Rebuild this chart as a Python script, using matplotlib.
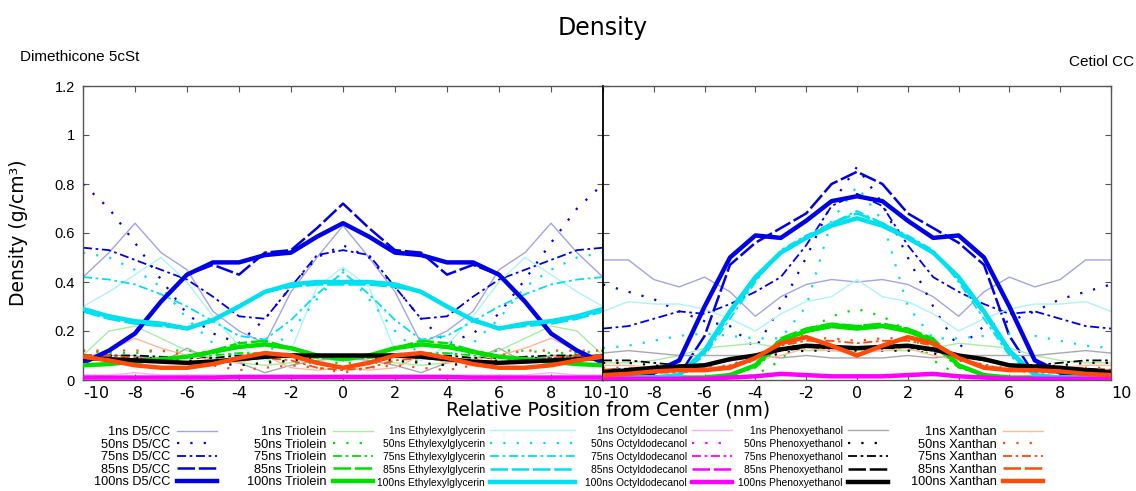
import matplotlib
matplotlib.use("Agg")
import matplotlib.pyplot as plt

# ── Data (density in g/cm^3, sampled every 1 nm from -10 to 10) ───────────────
X_NM = list(range(-10, 11))
TIMES = ["1ns", "50ns", "75ns", "85ns", "100ns"]
COMPONENTS = ["D5/CC", "Triolein", "Ethylexylglycerin",
              "Octyldodecanol", "Phenoxyethanol", "Xanthan"]

# Dimethicone 5cSt panel -- rows are 1, 50, 75, 85, 100 ns
DIM_D5 = [
    [0.42, 0.52, 0.64, 0.52, 0.45, 0.28, 0.20, 0.15, 0.36, 0.50, 0.63, 0.50, 0.36, 0.15, 0.20, 0.28, 0.45, 0.52, 0.64, 0.52, 0.42],
    [0.80, 0.70, 0.56, 0.41, 0.27, 0.19, 0.15, 0.25, 0.38, 0.50, 0.55, 0.50, 0.38, 0.25, 0.15, 0.19, 0.27, 0.41, 0.56, 0.70, 0.80],
    [0.54, 0.53, 0.49, 0.45, 0.41, 0.34, 0.26, 0.25, 0.38, 0.51, 0.53, 0.51, 0.38, 0.25, 0.26, 0.34, 0.41, 0.45, 0.49, 0.53, 0.54],
    [0.07, 0.12, 0.19, 0.32, 0.43, 0.47, 0.43, 0.52, 0.53, 0.62, 0.72, 0.62, 0.53, 0.52, 0.43, 0.47, 0.43, 0.32, 0.19, 0.12, 0.07],
    [0.07, 0.12, 0.19, 0.32, 0.43, 0.48, 0.48, 0.51, 0.52, 0.585, 0.64, 0.585, 0.52, 0.51, 0.48, 0.48, 0.43, 0.32, 0.19, 0.12, 0.07],
]
DIM_TRIOLEIN = [
    [0.10, 0.20, 0.22, 0.17, 0.12, 0.09, 0.07, 0.06, 0.07, 0.09, 0.10, 0.09, 0.07, 0.06, 0.07, 0.09, 0.12, 0.17, 0.22, 0.20, 0.10],
    [0.12, 0.11, 0.11, 0.12, 0.12, 0.11, 0.10, 0.08, 0.07, 0.07, 0.07, 0.07, 0.07, 0.08, 0.10, 0.11, 0.12, 0.12, 0.11, 0.11, 0.12],
    [0.10, 0.10, 0.09, 0.09, 0.09, 0.10, 0.11, 0.11, 0.10, 0.09, 0.08, 0.09, 0.10, 0.11, 0.11, 0.10, 0.09, 0.09, 0.09, 0.10, 0.10],
    [0.06, 0.065, 0.07, 0.08, 0.095, 0.12, 0.15, 0.16, 0.13, 0.10, 0.09, 0.10, 0.13, 0.16, 0.15, 0.12, 0.095, 0.08, 0.07, 0.065, 0.06],
    [0.06, 0.065, 0.075, 0.085, 0.095, 0.115, 0.135, 0.145, 0.13, 0.10, 0.085, 0.10, 0.13, 0.145, 0.135, 0.115, 0.095, 0.085, 0.075, 0.065, 0.06],
]
DIM_ETHYL = [
    [0.30, 0.36, 0.43, 0.50, 0.40, 0.26, 0.14, 0.08, 0.12, 0.38, 0.46, 0.38, 0.12, 0.08, 0.14, 0.26, 0.40, 0.50, 0.43, 0.36, 0.30],
    [0.52, 0.50, 0.45, 0.38, 0.25, 0.15, 0.10, 0.10, 0.20, 0.33, 0.45, 0.33, 0.20, 0.10, 0.10, 0.15, 0.25, 0.38, 0.45, 0.50, 0.52],
    [0.42, 0.41, 0.39, 0.35, 0.30, 0.24, 0.18, 0.165, 0.245, 0.35, 0.44, 0.35, 0.245, 0.165, 0.18, 0.24, 0.30, 0.35, 0.39, 0.41, 0.42],
    [0.28, 0.25, 0.23, 0.22, 0.21, 0.24, 0.30, 0.36, 0.38, 0.39, 0.39, 0.39, 0.38, 0.36, 0.30, 0.24, 0.21, 0.22, 0.23, 0.25, 0.28],
    [0.29, 0.26, 0.24, 0.23, 0.21, 0.245, 0.30, 0.36, 0.39, 0.40, 0.40, 0.40, 0.39, 0.36, 0.30, 0.245, 0.21, 0.23, 0.24, 0.26, 0.29],
]
DIM_OCTYL = [
    [0.02, 0.02, 0.03, 0.02, 0.02, 0.02, 0.02, 0.02, 0.02, 0.02, 0.02, 0.02, 0.02, 0.02, 0.02, 0.02, 0.02, 0.02, 0.03, 0.02, 0.02],
    [0.012, 0.012, 0.01, 0.01, 0.01, 0.012, 0.015, 0.015, 0.012, 0.01, 0.01, 0.01, 0.012, 0.015, 0.015, 0.012, 0.01, 0.01, 0.01, 0.012, 0.012],
    [0.011, 0.011, 0.01, 0.01, 0.01, 0.012, 0.014, 0.014, 0.012, 0.01, 0.01, 0.01, 0.012, 0.014, 0.014, 0.012, 0.01, 0.01, 0.01, 0.011, 0.011],
    [0.01, 0.01, 0.01, 0.01, 0.01, 0.01, 0.012, 0.012, 0.012, 0.012, 0.012, 0.012, 0.012, 0.012, 0.012, 0.01, 0.01, 0.01, 0.01, 0.01, 0.01],
    [0.01, 0.01, 0.01, 0.01, 0.01, 0.01, 0.012, 0.012, 0.012, 0.012, 0.012, 0.012, 0.012, 0.012, 0.012, 0.01, 0.01, 0.01, 0.01, 0.01, 0.01],
]
DIM_PHENOXY = [
    [0.09, 0.10, 0.10, 0.07, 0.13, 0.08, 0.07, 0.03, 0.06, 0.08, 0.09, 0.08, 0.06, 0.03, 0.07, 0.08, 0.13, 0.07, 0.10, 0.10, 0.09],
    [0.10, 0.10, 0.09, 0.09, 0.08, 0.07, 0.06, 0.07, 0.08, 0.09, 0.10, 0.09, 0.08, 0.07, 0.06, 0.07, 0.08, 0.09, 0.09, 0.10, 0.10],
    [0.10, 0.10, 0.10, 0.095, 0.09, 0.09, 0.10, 0.10, 0.105, 0.10, 0.10, 0.10, 0.105, 0.10, 0.10, 0.09, 0.09, 0.095, 0.10, 0.10, 0.10],
    [0.09, 0.085, 0.08, 0.075, 0.07, 0.075, 0.085, 0.095, 0.10, 0.10, 0.10, 0.10, 0.10, 0.095, 0.085, 0.075, 0.07, 0.075, 0.08, 0.085, 0.09],
    [0.09, 0.085, 0.08, 0.075, 0.07, 0.075, 0.085, 0.095, 0.10, 0.10, 0.10, 0.10, 0.10, 0.095, 0.085, 0.075, 0.07, 0.075, 0.08, 0.085, 0.09],
]
DIM_XANTHAN = [
    [0.09, 0.12, 0.17, 0.13, 0.10, 0.08, 0.07, 0.10, 0.05, 0.04, 0.05, 0.04, 0.05, 0.10, 0.07, 0.08, 0.10, 0.13, 0.17, 0.12, 0.09],
    [0.12, 0.12, 0.12, 0.12, 0.10, 0.06, 0.04, 0.05, 0.06, 0.05, 0.03, 0.05, 0.06, 0.05, 0.04, 0.06, 0.10, 0.12, 0.12, 0.12, 0.12],
    [0.10, 0.10, 0.09, 0.08, 0.07, 0.07, 0.08, 0.09, 0.08, 0.05, 0.04, 0.05, 0.08, 0.09, 0.08, 0.07, 0.07, 0.08, 0.09, 0.10, 0.10],
    [0.095, 0.08, 0.06, 0.05, 0.05, 0.065, 0.09, 0.11, 0.10, 0.07, 0.05, 0.07, 0.10, 0.11, 0.09, 0.065, 0.05, 0.05, 0.06, 0.08, 0.095],
    [0.095, 0.08, 0.06, 0.05, 0.05, 0.065, 0.09, 0.11, 0.10, 0.07, 0.05, 0.07, 0.10, 0.11, 0.09, 0.065, 0.05, 0.05, 0.06, 0.08, 0.095],
]

# Cetiol CC panel -- rows are 1, 50, 75, 85, 100 ns
CET_D5 = [
    [0.49, 0.49, 0.41, 0.38, 0.42, 0.36, 0.26, 0.34, 0.39, 0.41, 0.40, 0.41, 0.39, 0.34, 0.26, 0.36, 0.42, 0.38, 0.41, 0.49, 0.49],
    [0.39, 0.36, 0.33, 0.28, 0.24, 0.22, 0.13, 0.30, 0.50, 0.72, 0.87, 0.72, 0.50, 0.30, 0.13, 0.22, 0.24, 0.28, 0.33, 0.36, 0.39],
    [0.21, 0.22, 0.25, 0.28, 0.27, 0.31, 0.36, 0.42, 0.55, 0.71, 0.76, 0.71, 0.55, 0.42, 0.36, 0.31, 0.27, 0.28, 0.25, 0.22, 0.21],
    [0.01, 0.01, 0.01, 0.02, 0.18, 0.47, 0.56, 0.62, 0.68, 0.80, 0.85, 0.80, 0.68, 0.62, 0.56, 0.47, 0.18, 0.02, 0.01, 0.01, 0.01],
    [0.02, 0.025, 0.03, 0.08, 0.30, 0.50, 0.59, 0.58, 0.65, 0.73, 0.75, 0.73, 0.65, 0.58, 0.59, 0.50, 0.30, 0.08, 0.03, 0.025, 0.02],
]
CET_TRIOLEIN = [
    [0.07, 0.07, 0.08, 0.10, 0.13, 0.14, 0.15, 0.13, 0.12, 0.12, 0.12, 0.12, 0.12, 0.13, 0.15, 0.14, 0.13, 0.10, 0.08, 0.07, 0.07],
    [0.01, 0.01, 0.01, 0.01, 0.01, 0.01, 0.02, 0.08, 0.20, 0.26, 0.29, 0.26, 0.20, 0.08, 0.02, 0.01, 0.01, 0.01, 0.01, 0.01, 0.01],
    [0.01, 0.01, 0.01, 0.01, 0.01, 0.02, 0.05, 0.14, 0.21, 0.23, 0.22, 0.23, 0.21, 0.14, 0.05, 0.02, 0.01, 0.01, 0.01, 0.01, 0.01],
    [0.01, 0.01, 0.01, 0.01, 0.01, 0.02, 0.06, 0.17, 0.21, 0.23, 0.22, 0.23, 0.21, 0.17, 0.06, 0.02, 0.01, 0.01, 0.01, 0.01, 0.01],
    [0.01, 0.01, 0.01, 0.01, 0.01, 0.02, 0.06, 0.16, 0.20, 0.22, 0.21, 0.22, 0.20, 0.16, 0.06, 0.02, 0.01, 0.01, 0.01, 0.01, 0.01],
]
CET_ETHYL = [
    [0.28, 0.32, 0.31, 0.31, 0.29, 0.25, 0.20, 0.27, 0.32, 0.34, 0.41, 0.34, 0.32, 0.27, 0.20, 0.25, 0.29, 0.31, 0.31, 0.32, 0.28],
    [0.13, 0.14, 0.16, 0.18, 0.19, 0.18, 0.17, 0.17, 0.30, 0.65, 0.79, 0.65, 0.30, 0.17, 0.17, 0.18, 0.19, 0.18, 0.16, 0.14, 0.13],
    [0.01, 0.01, 0.01, 0.02, 0.10, 0.25, 0.40, 0.53, 0.59, 0.64, 0.69, 0.64, 0.59, 0.53, 0.40, 0.25, 0.10, 0.02, 0.01, 0.01, 0.01],
    [0.01, 0.01, 0.01, 0.02, 0.11, 0.27, 0.41, 0.52, 0.58, 0.64, 0.68, 0.64, 0.58, 0.52, 0.41, 0.27, 0.11, 0.02, 0.01, 0.01, 0.01],
    [0.01, 0.01, 0.01, 0.02, 0.12, 0.28, 0.42, 0.52, 0.58, 0.63, 0.66, 0.63, 0.58, 0.52, 0.42, 0.28, 0.12, 0.02, 0.01, 0.01, 0.01],
]
CET_OCTYL = [
    [0.01, 0.01, 0.01, 0.01, 0.01, 0.01, 0.015, 0.03, 0.02, 0.015, 0.015, 0.015, 0.02, 0.03, 0.015, 0.01, 0.01, 0.01, 0.01, 0.01, 0.01],
    [0.005, 0.005, 0.005, 0.005, 0.005, 0.01, 0.015, 0.03, 0.02, 0.015, 0.015, 0.015, 0.02, 0.03, 0.015, 0.01, 0.005, 0.005, 0.005, 0.005, 0.005],
    [0.005, 0.005, 0.005, 0.005, 0.005, 0.01, 0.015, 0.028, 0.02, 0.015, 0.015, 0.015, 0.02, 0.028, 0.015, 0.01, 0.005, 0.005, 0.005, 0.005, 0.005],
    [0.005, 0.005, 0.005, 0.005, 0.005, 0.01, 0.015, 0.025, 0.02, 0.015, 0.015, 0.015, 0.02, 0.025, 0.015, 0.01, 0.005, 0.005, 0.005, 0.005, 0.005],
    [0.005, 0.005, 0.005, 0.005, 0.005, 0.01, 0.015, 0.025, 0.02, 0.015, 0.015, 0.015, 0.02, 0.025, 0.015, 0.01, 0.005, 0.005, 0.005, 0.005, 0.005],
]
CET_PHENOXY = [
    [0.11, 0.12, 0.11, 0.10, 0.10, 0.10, 0.10, 0.09, 0.10, 0.09, 0.09, 0.09, 0.10, 0.09, 0.10, 0.10, 0.10, 0.10, 0.11, 0.12, 0.11],
    [0.07, 0.07, 0.06, 0.05, 0.05, 0.06, 0.08, 0.11, 0.12, 0.12, 0.12, 0.12, 0.12, 0.11, 0.08, 0.06, 0.05, 0.05, 0.06, 0.07, 0.07],
    [0.08, 0.08, 0.07, 0.06, 0.06, 0.08, 0.10, 0.12, 0.13, 0.13, 0.13, 0.13, 0.13, 0.12, 0.10, 0.08, 0.06, 0.06, 0.07, 0.08, 0.08],
    [0.04, 0.045, 0.05, 0.055, 0.06, 0.085, 0.10, 0.125, 0.14, 0.135, 0.13, 0.135, 0.14, 0.125, 0.10, 0.085, 0.06, 0.055, 0.05, 0.045, 0.04],
    [0.03, 0.04, 0.05, 0.055, 0.06, 0.085, 0.10, 0.125, 0.14, 0.135, 0.13, 0.135, 0.14, 0.125, 0.10, 0.085, 0.06, 0.055, 0.05, 0.04, 0.03],
]
CET_XANTHAN = [
    [0.06, 0.06, 0.05, 0.05, 0.05, 0.06, 0.08, 0.10, 0.13, 0.12, 0.11, 0.12, 0.13, 0.10, 0.08, 0.06, 0.05, 0.05, 0.05, 0.06, 0.06],
    [0.05, 0.05, 0.04, 0.04, 0.04, 0.06, 0.10, 0.15, 0.17, 0.17, 0.16, 0.17, 0.17, 0.15, 0.10, 0.06, 0.04, 0.04, 0.04, 0.05, 0.05],
    [0.04, 0.04, 0.03, 0.03, 0.04, 0.06, 0.09, 0.14, 0.16, 0.16, 0.15, 0.16, 0.16, 0.14, 0.09, 0.06, 0.04, 0.03, 0.03, 0.04, 0.04],
    [0.02, 0.025, 0.035, 0.04, 0.04, 0.05, 0.09, 0.15, 0.175, 0.14, 0.10, 0.14, 0.175, 0.15, 0.09, 0.05, 0.04, 0.04, 0.035, 0.025, 0.02],
    [0.02, 0.025, 0.035, 0.04, 0.04, 0.05, 0.09, 0.15, 0.175, 0.14, 0.10, 0.14, 0.175, 0.15, 0.09, 0.05, 0.04, 0.04, 0.035, 0.025, 0.02],
]

LEFT = [DIM_D5, DIM_TRIOLEIN, DIM_ETHYL, DIM_OCTYL, DIM_PHENOXY, DIM_XANTHAN]
RIGHT = [CET_D5, CET_TRIOLEIN, CET_ETHYL, CET_OCTYL, CET_PHENOXY, CET_XANTHAN]

# ── Styling ───────────────────────────────────────────────────────────────────
LIGHT = ["#a3a3e6", "#a6eea6", "#aef4f6", "#ffb0ff", "#a8a8a8", "#ffb89a"]
MAIN  = ["#0000e8", "#00e000", "#00e0ee", "#ff00ff", "#000000", "#ff4a0a"]
STYLES = [("-", 1.0), ((0, (1, 5)), 1.6), ((0, (5, 2, 1.5, 2)), 1.3),
          ((0, (7, 1.5)), 1.8), ("-", 3.2)]

SANS = ["Liberation Sans", "DejaVu Sans"]
plt.rcParams["font.family"] = ["DejaVu Sans"]
plt.rcParams["axes.unicode_minus"] = False

W, H = 1136, 491


def draw_panel(ax, data):
    handles = []
    for c, comp in enumerate(data):
        group = []
        for t, ys in enumerate(comp):
            ls, lw = STYLES[t]
            color = LIGHT[c] if t == 0 else MAIN[c]
            ln, = ax.plot(X_NM, ys, color=color, ls=ls, lw=lw,
                          zorder=3 if t == 4 else 2)
            group.append(ln)
        handles.append(group)
    ax.set_xlim(-10, 10)
    ax.set_ylim(0, 1.2)
    ax.set_xticks(range(-10, 11, 2))
    ax.set_yticks([0, 0.2, 0.4, 0.6, 0.8, 1.0, 1.2])
    ax.tick_params(direction="in", length=4, top=True, right=True,
                   color="#555555", labelsize=11.5, pad=4)
    for s in ax.spines.values():
        s.set_color("#555555")
        s.set_linewidth(1.0)
    return handles


fig = plt.figure(figsize=(W / 100, H / 100), dpi=100)
bottom = 1 - 380 / H
height = (380 - 86) / H
ax_l = fig.add_axes([83 / W, bottom, (603 - 83) / W, height])
ax_r = fig.add_axes([603 / W, bottom, (1111 - 603) / W, height])

handles = draw_panel(ax_l, LEFT)
draw_panel(ax_r, RIGHT)

ax_l.set_yticklabels(["0", "0.2", "0.4", "0.6", "0.8", "1", "1.2"],
                     family=SANS, fontsize=10.5)
ax_l.tick_params(axis="y", pad=6)
ax_r.set_yticklabels([])
ax_l.spines["right"].set_color("black")
ax_r.spines["left"].set_color("black")
ax_r.spines["left"].set_linewidth(1.3)

# keep the end labels of the two panels from colliding
fig.canvas.draw()
ax_l.get_xticklabels()[0].set_ha("left")
ax_l.get_xticklabels()[-1].set_ha("right")
ax_r.get_xticklabels()[0].set_ha("left")
ax_r.get_xticklabels()[-1].set_ha("left")

ax_l.set_ylabel("Density (g/cm³)", fontsize=13.5)
ax_l.yaxis.set_label_coords(-(83 - 28) / 520, 0.5)

fig.text(603 / W, 1 - 28 / H, "Density", ha="center", va="center", fontsize=17)
fig.text(20 / W, 1 - 57 / H, "Dimethicone 5cSt", ha="left", va="center",
         fontsize=11, family=SANS)
fig.text(1134 / W, 1 - 62 / H, "Cetiol CC", ha="right", va="center",
         fontsize=11, family=SANS)
fig.text(608 / W, 1 - 410 / H, "Relative Position from Center (nm)",
         ha="center", va="center", fontsize=13.5)

# ── Legend: one block of five entries per component ──────────────────────────
LEG_RIGHT = [217, 373, 575, 732, 888, 1043]   # right end of the line sample, px
LEG_HANDLE = [40, 40, 85, 40, 40, 40]          # line sample length, px
LEG_FONT = [9.2, 9.2, 7.4, 7.4, 7.4, 9.2]
ROW_PX = 12.8
for c, comp in enumerate(COMPONENTS):
    fs = LEG_FONT[c]
    fs_px = fs * 100 / 72
    fig.legend(handles[c], [f"{t} {comp}" for t in TIMES],
               loc="upper right", bbox_to_anchor=(LEG_RIGHT[c] / W, 1 - 426 / H),
               frameon=False, markerfirst=False, borderpad=0, borderaxespad=0,
               handlelength=LEG_HANDLE[c] / fs_px,
               labelspacing=ROW_PX / fs_px - 0.96,
               handletextpad=0.5, prop={"family": SANS, "size": fs})

fig.savefig("out.png", dpi=100)
